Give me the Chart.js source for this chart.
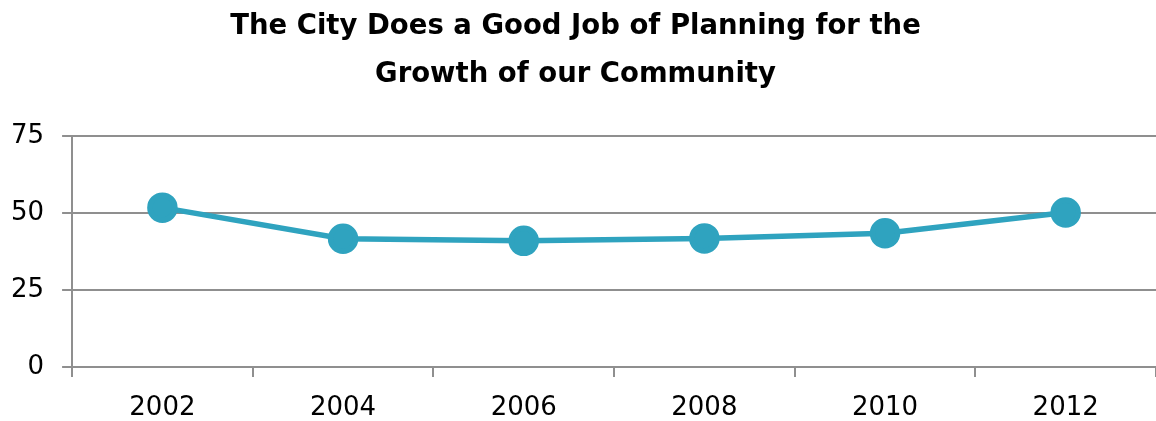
<!DOCTYPE html>
<html lang="en">
<head>
    <meta charset="UTF-8">
    <title>City Planning for Growth</title>
    <script src="https://cdn.jsdelivr.net/npm/chart.js"></script>
    <style>
        body {
            margin: 0;
            padding: 0;
            background-color: #fff;
        }

        .chart-container {
            width: 1156px;
            height: 421px;
        }
    </style>
</head>
<body>
<div class="chart-container">
    <canvas id="lineChart"></canvas>
</div>

<script>
    // Survey years and the share agreeing with the statement
    const years = ['2002', '2004', '2006', '2008', '2010', '2012'];
    const agreeValues = [51.8, 41.7, 41.0, 41.8, 43.5, 50.2];
    const yTicks = [0, 25, 50, 75];
    const titleLines = ['The City Does a Good Job of Planning for the', 'Growth of our Community'];

    const fontFamily = '"DejaVu Sans", Verdana, sans-serif';
    const lineColor = '#2fa3bf';
    const axisColor = '#8f8f8f';

    new Chart(document.getElementById('lineChart').getContext('2d'), {
        type: 'line',
        data: {
            labels: years,
            datasets: [{
                data: agreeValues,
                borderColor: lineColor,
                backgroundColor: lineColor,
                borderWidth: 5.5,
                pointRadius: 12.5,
                pointHoverRadius: 12.5,
                tension: 0
            }]
        },
        options: {
            responsive: true,
            maintainAspectRatio: false,
            animation: false,
            layout: {
                autoPadding: false,
                padding: { left: -7, right: -2, top: 3, bottom: 0 }
            },
            plugins: {
                legend: { display: false },
                tooltip: { enabled: false },
                title: {
                    display: true,
                    text: titleLines,
                    color: '#000',
                    font: { family: fontFamily, size: 27.5, weight: 'bold', lineHeight: 1.75 },
                    padding: { top: 0, bottom: 37 }
                }
            },
            scales: {
                x: {
                    offset: true,
                    // run the plot up to the right edge and keep the year row low
                    afterFit: axis => {
                        axis.paddingRight = 0;
                        axis.height = 54;
                    },
                    grid: {
                        offset: true,
                        drawOnChartArea: false,
                        color: axisColor,
                        lineWidth: 2,
                        tickLength: 10
                    },
                    border: { color: axisColor, width: 2 },
                    ticks: {
                        color: '#000',
                        padding: 16,
                        font: { family: fontFamily, size: 26 }
                    }
                },
                y: {
                    min: 0,
                    max: 75,
                    afterBuildTicks: axis => {
                        axis.ticks = yTicks.map(v => ({ value: v }));
                    },
                    grid: {
                        color: axisColor,
                        lineWidth: 2,
                        tickLength: 10
                    },
                    border: { color: axisColor, width: 2 },
                    ticks: {
                        color: '#000',
                        padding: 18,
                        font: { family: fontFamily, size: 26 }
                    }
                }
            }
        }
    });
</script>
</body>
</html>
